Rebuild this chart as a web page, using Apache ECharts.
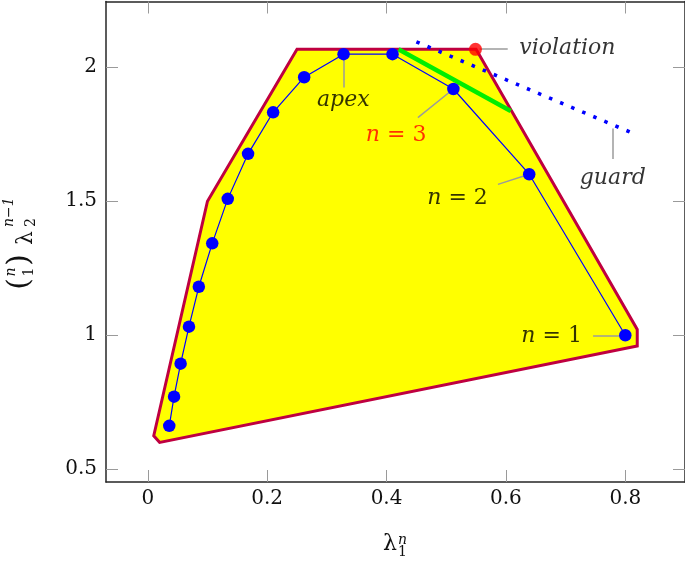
<!DOCTYPE html>
<html>
<head>
<meta charset="utf-8">
<script src="https://cdn.jsdelivr.net/npm/echarts@6/dist/echarts.min.js"></script>
<style>html,body{margin:0;padding:0;background:#fff}#c{width:685px;height:564px}</style>
</head>
<body>
<div id="c"></div>
<script>
// ---- data ----
const xTicks = [0, 0.2, 0.4, 0.6, 0.8];
const yTicks = [0.5, 1, 1.5, 2];
const hull = [[0.02, 0.60], [0.01, 0.625], [0.10, 1.50], [0.25, 2.067], [0.55, 2.067], [0.82, 1.022], [0.82, 0.96]];
const lambda1 = [0.80, 0.639, 0.512, 0.41, 0.328, 0.262, 0.21, 0.168, 0.134, 0.108, 0.0855, 0.069, 0.055, 0.044, 0.036];
const lambda2 = [1.00, 1.601, 1.919, 2.049, 2.049, 1.963, 1.832, 1.677, 1.509, 1.343, 1.181, 1.032, 0.894, 0.771, 0.662];
const guard = [[0.45, 2.095], [0.82, 1.747]];
const segment = [[0.42, 2.067], [0.608, 1.837]];
const violation = [[0.549, 2.067]];
const labelNames = ['violation', 'apex', 'n = 3', 'n = 2', 'guard', 'n = 1'];
const labelAt = [[0.703, 2.07], [0.3275, 1.878], [0.416, 1.747], [0.519, 1.511], [0.779, 1.586], [0.6766, 0.997]];
const pinFrom = [[0.556, 2.07], [0.3275, 2.049], [0.512, 1.919], [0.639, 1.601], [0.779, 1.772], [0.80, 1.0]];
const pinTo = [[0.603, 2.07], [0.3275, 1.925], [0.4525, 1.812], [0.5866, 1.563], [0.779, 1.658], [0.746, 1.0]];

const FF = 'DejaVu Serif';
const TXT = '#000';
const chart = echarts.init(document.getElementById('c'), null, {renderer: 'canvas'});

const pts = lambda1.map((x, i) => [x, lambda2[i]]);
const fmtTick = v => String(Math.round(v * 10) / 10);

const axLine = {show: true, onZero: false, lineStyle: {color: '#262626', width: 1.5}};

const option = {
  animation: false,
  grid: {left: 106, right: 0, top: 1.5, bottom: 82, containLabel: false},
  xAxis: [
    {
      type: 'value', position: 'bottom', min: -0.07, max: 0.9,
      axisLine: axLine,
      axisTick: {show: true, inside: true, length: 12, customValues: xTicks, lineStyle: {color: '#9a9a9a', width: 1}},
      axisLabel: {show: true, customValues: xTicks, formatter: fmtTick, hideOverlap: false, showMinLabel: true, showMaxLabel: true,
                  fontFamily: FF, fontSize: 20, color: '#111', margin: 7},
      splitLine: {show: false}
    },
    {
      type: 'value', position: 'top', min: -0.07, max: 0.9,
      axisLine: axLine,
      axisTick: {show: true, inside: true, length: 12, customValues: xTicks, lineStyle: {color: '#9a9a9a', width: 1}},
      axisLabel: {show: false},
      splitLine: {show: false}
    }
  ],
  yAxis: [
    {
      type: 'value', position: 'left', min: 0.4525, max: 2.2455,
      axisLine: axLine,
      axisTick: {show: true, inside: true, length: 12, customValues: yTicks, lineStyle: {color: '#9a9a9a', width: 1}},
      axisLabel: {show: true, customValues: yTicks, formatter: fmtTick, fontFamily: FF, fontSize: 20, color: '#111', margin: 9},
      splitLine: {show: false}
    },
    {
      type: 'value', position: 'right', min: 0.4525, max: 2.2455,
      axisLine: axLine,
      axisTick: {show: true, inside: true, length: 12, customValues: yTicks, lineStyle: {color: '#9a9a9a', width: 1}},
      axisLabel: {show: false},
      splitLine: {show: false}
    }
  ],
  series: [
    {
      type: 'custom', xAxisIndex: 0, yAxisIndex: 0, data: [[0.3, 1.2]], clip: true, z: 1,
      renderItem: function (params, api) {
        return {
          type: 'polygon',
          shape: {points: hull.map(p => api.coord(p))},
          style: {fill: '#ffff00', stroke: '#bf0040', lineWidth: 3, lineJoin: 'miter'}
        };
      }
    },
    {
      type: 'line', data: guard, symbol: 'none', z: 2,
      lineStyle: {color: '#0000ff', width: 3.6, type: [3.5, 8.5], cap: 'butt'}
    },
    {
      type: 'line', data: segment, symbol: 'none', z: 3,
      lineStyle: {color: '#00ee00', width: 4.5}
    },
    {
      type: 'lines', coordinateSystem: 'cartesian2d', z: 4,
      data: pinFrom.map((p, i) => ({coords: [p, pinTo[i]]})),
      lineStyle: {color: '#9b9b9b', width: 1.5, opacity: 1}
    },
    {
      type: 'line', data: pts, z: 5, symbol: 'circle', symbolSize: 12.5, showSymbol: true,
      itemStyle: {color: '#0000ff'}, lineStyle: {color: '#0000ff', width: 1.2}
    },
    {
      type: 'scatter', data: violation, z: 6, symbolSize: 13, itemStyle: {color: '#ff0000'}
    },
    {
      type: 'scatter', z: 7, symbolSize: 1, itemStyle: {color: 'rgba(0,0,0,0)'},
      data: labelNames.map((n, i) => {
        const c = n === 'n = 3' ? '#ff0000' : TXT;
        return {
          name: n, value: labelAt[i],
          label: {rich: {
            i: {fontFamily: FF, fontStyle: 'italic', fontSize: 22, color: c},
            r: {fontFamily: FF, fontSize: 22, color: c}
          }}
        };
      }),
      label: {
        show: true, position: 'inside',
        formatter: function (p) {
          const n = p.name;
          if (n.indexOf('=') >= 0) {
            const parts = n.split(' = ');
            return '{i|' + parts[0] + '}{r| = ' + parts[1] + '}';
          }
          return '{i|' + n + '}';
        }
      }
    }
  ],
  graphic: [
    // x-axis title: lambda_1^n
    {type: 'text', x: 390, y: 544, style: {text: 'λ', font: '22px "DejaVu Serif"', fill: '#111', align: 'center', verticalAlign: 'middle'}},
    {type: 'text', x: 398, y: 540, style: {text: 'n', font: 'italic 14px "DejaVu Serif"', fill: '#111', align: 'left', verticalAlign: 'middle'}},
    {type: 'text', x: 398, y: 552, style: {text: '1', font: '14px "DejaVu Serif"', fill: '#111', align: 'left', verticalAlign: 'middle'}},
    // y-axis title: binom(n,1) lambda_2^{n-1}
    {type: 'group', x: 20, y: 244, rotation: Math.PI / 2, children: [
      {type: 'text', x: -40, y: 0, style: {text: '(', font: '30px "DejaVu Serif"', fill: '#111', align: 'center', verticalAlign: 'middle'}},
      {type: 'text', x: -28, y: -9, style: {text: 'n', font: 'italic 14px "DejaVu Serif"', fill: '#111', align: 'center', verticalAlign: 'middle'}},
      {type: 'text', x: -28, y: 9, style: {text: '1', font: '14px "DejaVu Serif"', fill: '#111', align: 'center', verticalAlign: 'middle'}},
      {type: 'text', x: -16, y: 0, style: {text: ')', font: '30px "DejaVu Serif"', fill: '#111', align: 'center', verticalAlign: 'middle'}},
      {type: 'text', x: 6, y: 6, style: {text: 'λ', font: '22px "DejaVu Serif"', fill: '#111', align: 'center', verticalAlign: 'middle'}},
      {type: 'text', x: 17, y: -11, style: {text: 'n−1', font: 'italic 14px "DejaVu Serif"', fill: '#111', align: 'left', verticalAlign: 'middle'}},
      {type: 'text', x: 17, y: 11, style: {text: '2', font: '14px "DejaVu Serif"', fill: '#111', align: 'left', verticalAlign: 'middle'}}
    ]}
  ]
};
chart.setOption(option);
</script>
</body>
</html>
